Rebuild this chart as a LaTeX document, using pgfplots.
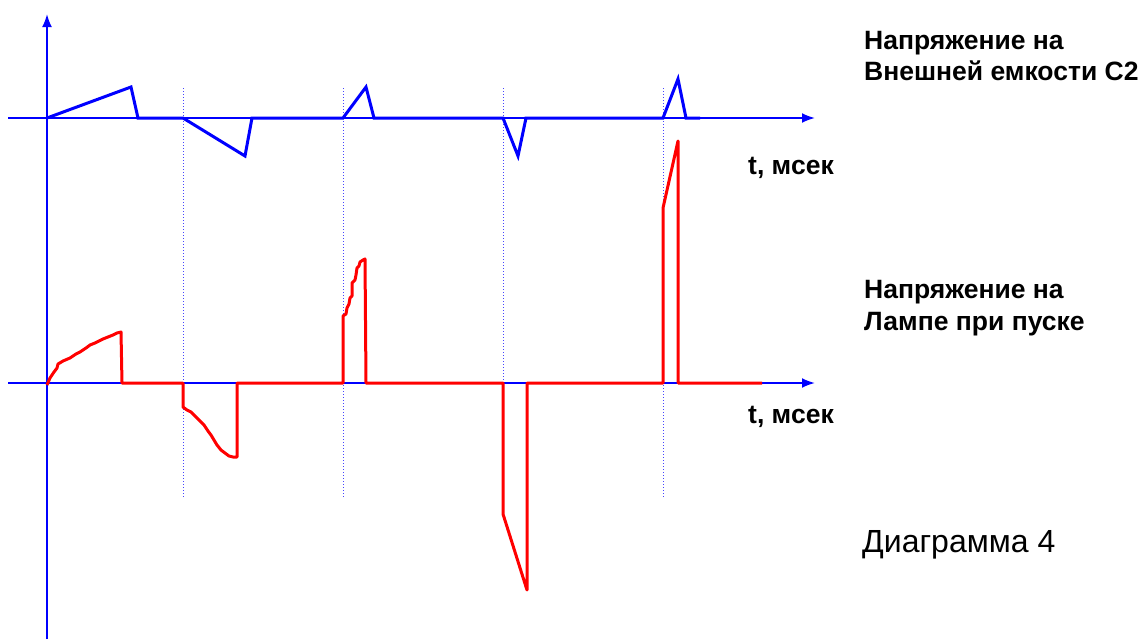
\documentclass[border=0pt]{standalone}
\usepackage{pgfplots}
\pgfplotsset{compat=1.18}
\usetikzlibrary{arrows.meta}
\usepackage{fontspec}
\setmainfont{Liberation Sans}
\definecolor{pblue}{RGB}{0,0,255}
\definecolor{pred}{RGB}{255,0,0}
\definecolor{dotblue}{RGB}{70,70,255}
\begin{document}
\begin{tikzpicture}
\begin{axis}[
  width=1143pt, height=639pt, scale only axis,
  xmin=0, xmax=1143, ymin=0, ymax=639, y dir=reverse,
  hide axis, clip=false,
]
\path (axis cs:0,0) rectangle (axis cs:1143,639);
% axes
\addplot[pblue, line width=2pt, -{Latex[length=13pt,width=10pt]}] coordinates {(47,639) (47,14)};
\addplot[pblue, line width=2pt, -{Latex[length=13pt,width=10pt]}] coordinates {(8,118) (815,118)};
\addplot[pblue, line width=2pt, -{Latex[length=13pt,width=10pt]}] coordinates {(8,383) (815,383)};
% dotted guides
\addplot[dotblue, line width=0.9pt, dash pattern=on 1pt off 2pt] coordinates {(183,88) (183,497)};
\addplot[dotblue, line width=0.9pt, dash pattern=on 1pt off 2pt] coordinates {(343,88) (343,497)};
\addplot[dotblue, line width=0.9pt, dash pattern=on 1pt off 2pt] coordinates {(503,88) (503,497)};
\addplot[dotblue, line width=0.9pt, dash pattern=on 1pt off 2pt] coordinates {(663,88) (663,497)};
% blue trace: voltage on C2
\addplot[pblue, line width=3pt, line join=miter] coordinates {
 (47,118) (131,87) (138,118) (183,118) (245,156) (252,118) (343,118)
 (366,87) (374,118) (503,118) (518,156) (526,118) (663,118) (678,79) (686,118) (700,118)};
% red trace: lamp voltage
\addplot[pred, line width=3pt, line join=round] coordinates {
 (47,385) (50,378) (54,372) (57,368) (58,364) (63,361) (70,358) (76,354) (80,352) (86,348) (90,345)
 (95,343) (99,341) (103,339) (108,337) (113,335) (117,333) (121,332) (122,383)
 (183,383) (183,407) (187,410) (191,412) (196,417) (200,421) (204,425) (208,431) (211,435)
 (214,440) (217,445) (221,450) (225,453) (229,456) (233,457) (237,457) (237,383)
 (343,383) (343,316) (346,314) (347,308) (349,304) (350,298) (352,296) (352,283) (355,280)
 (356,275) (357,268) (359,266) (360,262) (363,260) (365,259) (366,383)
 (503,383) (503,514) (527,590) (527,383)
 (663,383) (663,208) (678,141) (678,383) (762,383)};
% labels
\node[anchor=base west, inner sep=0pt, font=\fontsize{26.5}{30}\selectfont\bfseries] at (axis cs:864,49) {Напряжение на};
\node[anchor=base west, inner sep=0pt, font=\fontsize{26.5}{30}\selectfont\bfseries] at (axis cs:864,80.5) {Внешней емкости С2};
\node[anchor=base west, inner sep=0pt, font=\fontsize{26.5}{30}\selectfont\bfseries] at (axis cs:748,174) {t, мсек};
\node[anchor=base west, inner sep=0pt, font=\fontsize{26.5}{30}\selectfont\bfseries] at (axis cs:864,298) {Напряжение на};
\node[anchor=base west, inner sep=0pt, font=\fontsize{26.5}{30}\selectfont\bfseries] at (axis cs:864,330) {Лампе при пуске};
\node[anchor=base west, inner sep=0pt, font=\fontsize{26.5}{30}\selectfont\bfseries] at (axis cs:748,423) {t, мсек};
\node[anchor=base west, inner sep=0pt, font=\fontsize{32}{36}\selectfont] at (axis cs:862,552) {Диаграмма 4};
\end{axis}
\end{tikzpicture}
\end{document}
